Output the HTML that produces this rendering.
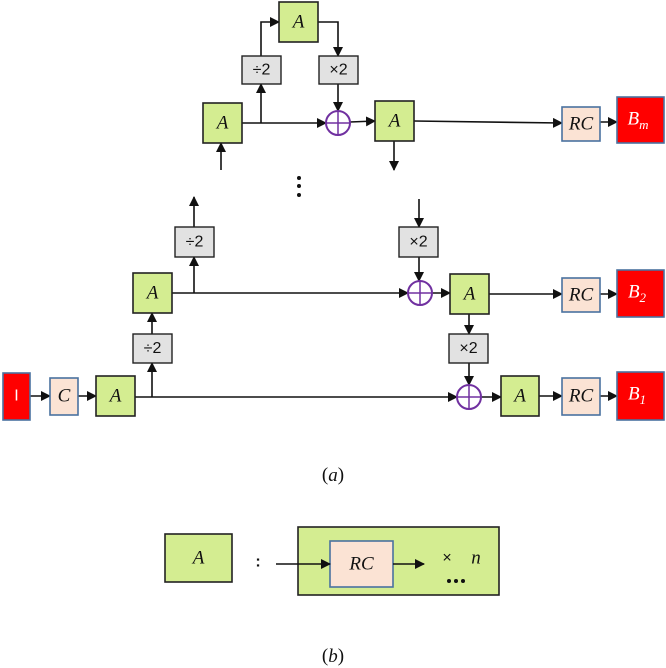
<!DOCTYPE html>
<html><head><meta charset="utf-8"><style>
html,body{margin:0;padding:0;background:#fff;}
svg{display:block;}
.g{fill:#d4ed91;stroke:#222;stroke-width:1.6;}
.x{fill:#e2e2e2;stroke:#222;stroke-width:1.4;}
.r{fill:#fbe3d4;stroke:#4a72a0;stroke-width:1.6;}
.red{fill:#ff0000;stroke:#4a72a0;stroke-width:1.6;}
.l{stroke:#111;stroke-width:1.6;fill:none;}
.c{fill:#fff;stroke:#7030a0;stroke-width:2;}
.cl{stroke:#7030a0;stroke-width:1.5;}
text{font-family:"Liberation Serif",serif;font-style:italic;font-size:19px;text-anchor:middle;dominant-baseline:central;fill:#111;}
.op{font-family:"Liberation Sans",sans-serif;font-style:normal;font-size:16px;}
.w{fill:#fff;}
</style></head><body>
<svg width="666" height="668" viewBox="0 0 666 668" xmlns="http://www.w3.org/2000/svg">
<defs><marker id="a" markerWidth="10" markerHeight="10" refX="9" refY="5" orient="auto" markerUnits="userSpaceOnUse"><path d="M0,0 L10,5 L0,10 z" fill="#111"/></marker></defs>
<path class="l" d="M261,56 V22 H279" marker-end="url(#a)"/>
<path class="l" d="M318,22 H338 V56" marker-end="url(#a)"/>
<line class="l" x1="338" y1="84" x2="338" y2="111" marker-end="url(#a)"/>
<line class="l" x1="242" y1="123" x2="326" y2="123" marker-end="url(#a)"/>
<line class="l" x1="261" y1="123" x2="261" y2="84" marker-end="url(#a)"/>
<line class="l" x1="350" y1="122" x2="375" y2="121" marker-end="url(#a)"/>
<line class="l" x1="414" y1="121" x2="562" y2="123" marker-end="url(#a)"/>
<line class="l" x1="600" y1="122" x2="617" y2="122" marker-end="url(#a)"/>
<line class="l" x1="221" y1="170" x2="221" y2="143" marker-end="url(#a)"/>
<line class="l" x1="394" y1="141" x2="394" y2="170" marker-end="url(#a)"/>
<line class="l" x1="194" y1="227" x2="194" y2="197" marker-end="url(#a)"/>
<line class="l" x1="419" y1="199" x2="419" y2="227" marker-end="url(#a)"/>
<line class="l" x1="194" y1="293" x2="194" y2="257" marker-end="url(#a)"/>
<line class="l" x1="419" y1="257" x2="419" y2="281" marker-end="url(#a)"/>
<line class="l" x1="172" y1="293" x2="408" y2="293" marker-end="url(#a)"/>
<line class="l" x1="432" y1="293" x2="450" y2="293" marker-end="url(#a)"/>
<line class="l" x1="489" y1="294" x2="562" y2="294" marker-end="url(#a)"/>
<line class="l" x1="600" y1="294" x2="617" y2="294" marker-end="url(#a)"/>
<line class="l" x1="469" y1="314" x2="469" y2="334" marker-end="url(#a)"/>
<line class="l" x1="469" y1="363" x2="469" y2="385" marker-end="url(#a)"/>
<line class="l" x1="152" y1="334" x2="152" y2="313" marker-end="url(#a)"/>
<line class="l" x1="152" y1="397" x2="152" y2="363" marker-end="url(#a)"/>
<line class="l" x1="30" y1="396" x2="50" y2="396" marker-end="url(#a)"/>
<line class="l" x1="78" y1="396" x2="96" y2="396" marker-end="url(#a)"/>
<line class="l" x1="135" y1="397" x2="457" y2="397" marker-end="url(#a)"/>
<line class="l" x1="481" y1="397" x2="501" y2="397" marker-end="url(#a)"/>
<line class="l" x1="539" y1="396" x2="562" y2="396" marker-end="url(#a)"/>
<line class="l" x1="600" y1="396" x2="617" y2="396" marker-end="url(#a)"/>

<rect class="g" x="279" y="2" width="39" height="40"/><text x="298.5" y="22">A</text>
<rect class="x" x="242" y="56" width="39" height="28"/><text class="op" x="261.5" y="70">÷2</text>
<rect class="x" x="319" y="56" width="39" height="28"/><text class="op" x="338.5" y="70">×2</text>
<rect class="g" x="203" y="103" width="39" height="40"/><text x="222.5" y="123">A</text>
<rect class="g" x="375" y="101" width="39" height="40"/><text x="394.5" y="121">A</text>
<circle class="c" cx="338" cy="123" r="12"/><line class="cl" x1="326" y1="123" x2="350" y2="123"/><line class="cl" x1="338" y1="111" x2="338" y2="135"/>
<rect class="r" x="562" y="107" width="38" height="34"/><text x="581" y="124">RC</text>
<rect class="red" x="617" y="97" width="47" height="46"/><text class="w" x="638" y="119">B<tspan font-size="13" dy="5">m</tspan></text>
<circle cx="299" cy="178" r="2" fill="#111"/><circle cx="299" cy="186" r="2" fill="#111"/><circle cx="299" cy="195" r="2" fill="#111"/>
<rect class="x" x="175" y="227" width="39" height="30"/><text class="op" x="194.5" y="242">÷2</text>
<rect class="x" x="399" y="227" width="39" height="30"/><text class="op" x="418.5" y="242">×2</text>
<rect class="g" x="133" y="273" width="39" height="40"/><text x="152.5" y="293">A</text>
<circle class="c" cx="420" cy="293" r="12"/><line class="cl" x1="408" y1="293" x2="432" y2="293"/><line class="cl" x1="420" y1="281" x2="420" y2="305"/>
<rect class="g" x="450" y="274" width="39" height="40"/><text x="469.5" y="294">A</text>
<rect class="r" x="562" y="278" width="38" height="34"/><text x="581" y="295">RC</text>
<rect class="red" x="617" y="270" width="47" height="47"/><text class="w" x="637" y="292">B<tspan font-size="13" dy="5">2</tspan></text>
<rect class="x" x="449" y="334" width="39" height="29"/><text class="op" x="468.5" y="348.5">×2</text>
<rect class="x" x="133" y="334" width="39" height="29"/><text class="op" x="152.5" y="348.5">÷2</text>
<rect class="red" x="3" y="373" width="27" height="47"/><text class="w op" x="16.5" y="396">I</text>
<rect class="r" x="50" y="378" width="28" height="37"/><text x="64" y="396">C</text>
<rect class="g" x="96" y="376" width="39" height="40"/><text x="115.5" y="396">A</text>
<circle class="c" cx="469" cy="397" r="12"/><line class="cl" x1="457" y1="397" x2="481" y2="397"/><line class="cl" x1="469" y1="385" x2="469" y2="409"/>
<rect class="g" x="501" y="376" width="38" height="40"/><text x="520" y="396">A</text>
<rect class="r" x="562" y="378" width="38" height="37"/><text x="581" y="396">RC</text>
<rect class="red" x="617" y="372" width="47" height="48"/><text class="w" x="637" y="394">B<tspan font-size="13" dy="5">1</tspan></text>
<text x="333" y="475" style="font-style:normal">(<tspan font-style="italic">a</tspan>)</text>

<rect class="g" x="165" y="534" width="67" height="48"/><text x="198.5" y="558" font-size="22">A</text>
<text class="op" x="258" y="562" font-size="24" style="font-weight:bold">:</text>
<rect class="g" x="298" y="527" width="201" height="68"/>
<rect class="r" x="330" y="541" width="63" height="46"/><text x="361.5" y="564" font-size="22">RC</text>
<line class="l" x1="276" y1="564" x2="330" y2="564" marker-end="url(#a)"/>
<line class="l" x1="393" y1="564" x2="424" y2="564" marker-end="url(#a)"/>
<text class="op" x="447" y="558" font-size="30">×</text>
<text x="476" y="558" font-size="28">n</text>
<circle cx="449" cy="581" r="2" fill="#111"/><circle cx="456" cy="581" r="2" fill="#111"/><circle cx="463" cy="581" r="2" fill="#111"/>
<text x="333" y="656" style="font-style:normal">(<tspan font-style="italic">b</tspan>)</text>
</svg>
</body></html>
